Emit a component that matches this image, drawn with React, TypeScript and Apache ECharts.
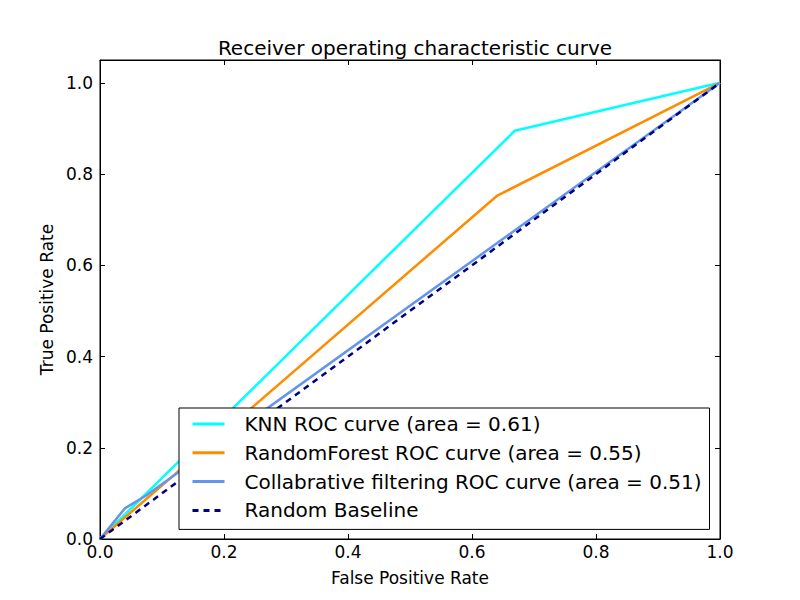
import React, { useEffect, useRef } from "react";
import * as echarts from "echarts";

const knnFpr = [0, 0.669, 1];
const knnTpr = [0, 0.895, 1];
const rfFpr = [0, 0.64, 1];
const rfTpr = [0, 0.752, 1];
const cfFpr = [0, 0.04, 0.075, 1];
const cfTpr = [0, 0.067, 0.096, 1];
const baseFpr = [0, 1];
const baseTpr = [0, 1];
const seriesNames = [
  "KNN ROC curve (area = 0.61)",
  "RandomForest ROC curve (area = 0.55)",
  "Collabrative filtering ROC curve (area = 0.51)",
  "Random Baseline",
];
const tickValues = [0, 0.2, 0.4, 0.6, 0.8, 1.0];

const zip = (xs: number[], ys: number[]) => xs.map((x, i) => [x, ys[i]]);

export default function App() {
  const ref = useRef<HTMLDivElement>(null);
  useEffect(() => {
    if (!ref.current) return;
    const chart = echarts.init(ref.current, undefined, { renderer: "svg" });
    const font = "DejaVu Sans";
    const fmt = (v: number) => {
      const ok = tickValues.some((t) => Math.abs(t - v) < 1e-6);
      return ok ? v.toFixed(1) : "";
    };
    const axisCommon = {
      type: "value" as const,
      min: 0,
      interval: 0.2,
      splitLine: { show: false },
      axisLine: { show: true, onZero: false, lineStyle: { color: "#000", width: 1 } },
      axisTick: { show: true, inside: true, length: 5, lineStyle: { color: "#000" } },
    };
    const lineSeries = (name: string, data: number[][], color: string, dashed = false) => ({
      name,
      type: "line",
      data,
      symbol: "none",
      showSymbol: false,
      xAxisIndex: 0,
      yAxisIndex: 0,
      lineStyle: { color, width: 2.5, type: dashed ? [6, 5] : "solid" },
      itemStyle: { color },
    });
    chart.setOption({
      animation: false,
      backgroundColor: "#fff",
      title: {
        text: "Receiver operating characteristic curve",
        left: 410,
        textAlign: "center",
        top: 33,
        textStyle: { fontFamily: font, fontSize: 20, fontWeight: "normal", color: "#000" },
      },
      grid: { left: 100, right: 80, top: 60, bottom: 61, show: true, borderColor: "#000", borderWidth: 1 },
      legend: {
        orient: "vertical",
        left: 179,
        top: 408,
        data: seriesNames,
        itemWidth: 32,
        itemHeight: 20,
        itemGap: 8.8,
        padding: [6, 8, 9, 12],
        borderColor: "#000",
        borderWidth: 1,
        borderRadius: 0,
        backgroundColor: "#fff",
        itemStyle: { opacity: 0 },
        lineStyle: { width: 3 },
        textStyle: { fontFamily: font, fontSize: 20, color: "#000", padding: [0, 0, 0, 15] },
      },
      xAxis: [
        {
          ...axisCommon,
          max: 1,
          position: "bottom",
          name: "False Positive Rate",
          nameLocation: "middle",
          nameGap: 30,
          nameTextStyle: { fontFamily: font, fontSize: 17, color: "#000" },
          axisLabel: { fontFamily: font, fontSize: 17, color: "#000", margin: 4, formatter: fmt },
        },
        {
          ...axisCommon,
          max: 1,
          position: "top",
          axisLabel: { show: false },
        },
      ],
      yAxis: [
        {
          ...axisCommon,
          max: 1.05,
          position: "left",
          name: "True Positive Rate",
          nameLocation: "middle",
          nameGap: 39,
          nameTextStyle: { fontFamily: font, fontSize: 17, color: "#000" },
          axisLabel: { fontFamily: font, fontSize: 17, color: "#000", margin: 7, formatter: fmt },
        },
        {
          ...axisCommon,
          max: 1.05,
          position: "right",
          axisLabel: { show: false },
        },
      ],
      series: [
        lineSeries(seriesNames[0], zip(knnFpr, knnTpr), "#00FFFF"),
        lineSeries(seriesNames[1], zip(rfFpr, rfTpr), "#FF8C00"),
        lineSeries(seriesNames[2], zip(cfFpr, cfTpr), "#6495ED"),
        lineSeries(seriesNames[3], zip(baseFpr, baseTpr), "#000080", true),
      ],
    });
    return () => chart.dispose();
  }, []);
  return (
    <div
      ref={ref}
      style={{ position: "fixed", left: 0, top: 0, width: 800, height: 600, background: "#fff" }}
    />
  );
}
